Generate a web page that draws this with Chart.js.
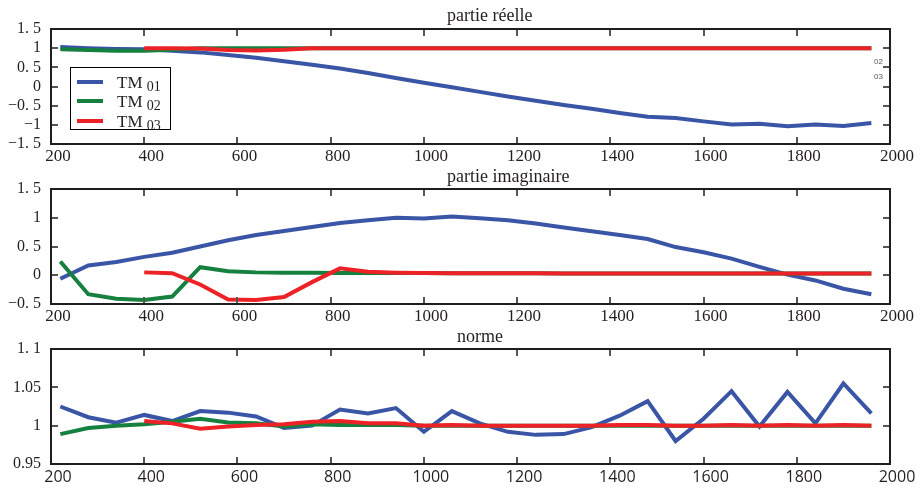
<!DOCTYPE html>
<html>
<head>
<meta charset="utf-8">
<script src="https://cdn.jsdelivr.net/npm/chart.js@4.4.1/dist/chart.umd.min.js"></script>
<style>
  body { margin: 0; background: #fff; }
  #wrap { position: relative; width: 920px; height: 494px; }
  canvas { position: absolute; left: 0; }
  #legend { position: absolute; left: 70px; top: 67px; width: 101px; height: 63px; border: 1px solid #000;
            box-sizing: border-box; background: #fff; font-family: 'Liberation Serif', 'DejaVu Serif', serif; color: #231f20; }
  #legend .ln { position: absolute; left: 6px; width: 26px; height: 4px; }
  #legend .tx { position: absolute; left: 46px; font-size: 17px; line-height: 17px; white-space: nowrap; }
  #legend .tx span { font-size: 14px; position: relative; top: 3px; }
</style>
</head>
<body>
<div id="wrap">
  <canvas id="c1" width="920" height="166" style="top:0px"></canvas>
  <canvas id="c2" width="920" height="160" style="top:166px"></canvas>
  <canvas id="c3" width="920" height="168" style="top:326px"></canvas>
  <div id="legend"></div>
</div>
<script>
// wavelengths (x) shared by every curve
const xs = [220, 280, 340, 400, 460, 520, 580, 640, 700, 760, 820, 880, 940, 1000, 1060,
            1120, 1180, 1240, 1300, 1360, 1420, 1480, 1540, 1600, 1660, 1720, 1780, 1840, 1900, 1960];

const seriesNames = ['TM 01', 'TM 02', 'TM 03'];
const colors = ['#3a55a6', '#16803f', '#ec2227'];

// partie réelle
const re01 = [1.03, 1.00, 0.98, 0.97, 0.93, 0.89, 0.82, 0.75, 0.66, 0.57, 0.47, 0.35, 0.22, 0.10, -0.02,
              -0.14, -0.26, -0.37, -0.48, -0.58, -0.69, -0.79, -0.82, -0.91, -0.99, -0.975, -1.04, -0.99, -1.03, -0.955];
const re02 = [0.97, 0.95, 0.93, 0.93, 0.96, 1.00, 1.00, 1.00, 1.00, 1.00, 1.00, 1.00, 1.00, 1.00, 1.00,
              1.00, 1.00, 1.00, 1.00, 1.00, 1.00, 1.00, 1.00, 1.00, 1.00, 1.00, 1.00, 1.00, 1.00, 1.00];
const re03 = [null, null, null, 1.00, 1.00, 0.99, 0.95, 0.94, 0.96, 1.00, 1.00, 1.00, 1.00, 1.00, 1.00,
              1.00, 1.00, 1.00, 1.00, 1.00, 1.00, 1.00, 1.00, 1.00, 1.00, 1.00, 1.00, 1.00, 1.00, 1.00];

// partie imaginaire
const im01 = [-0.06, 0.17, 0.23, 0.32, 0.39, 0.50, 0.61, 0.70, 0.77, 0.84, 0.91, 0.957, 1.00, 0.986, 1.02,
              0.99, 0.955, 0.90, 0.83, 0.766, 0.70, 0.63, 0.49, 0.40, 0.29, 0.145, 0.01, -0.09, -0.235, -0.33];
const im02 = [0.24, -0.33, -0.41, -0.43, -0.37, 0.14, 0.07, 0.05, 0.045, 0.045, 0.04, 0.04, 0.04, 0.04, 0.035,
              0.035, 0.035, 0.035, 0.03, 0.03, 0.03, 0.03, 0.03, 0.03, 0.03, 0.03, 0.03, 0.03, 0.03, 0.03];
const im03 = [null, null, null, 0.05, 0.035, -0.16, -0.42, -0.43, -0.38, -0.12, 0.12, 0.06, 0.045, 0.04, 0.035,
              0.035, 0.035, 0.035, 0.03, 0.03, 0.03, 0.03, 0.03, 0.03, 0.03, 0.03, 0.03, 0.03, 0.03, 0.03];

// norme
const no01 = [1.025, 1.011, 1.004, 1.014, 1.006, 1.019, 1.017, 1.012, 0.997, 1.000, 1.021, 1.016, 1.023, 0.992, 1.019,
              1.003, 0.992, 0.988, 0.989, 0.998, 1.013, 1.032, 0.980, 1.009, 1.045, 0.999, 1.044, 1.003, 1.055, 1.016];
const no02 = [0.989, 0.997, 1.000, 1.002, 1.005, 1.009, 1.004, 1.003, 0.999, 1.002, 1.001, 1.001, 1.001, 1.000, 1.000,
              1.000, 1.000, 1.000, 1.000, 1.000, 1.000, 1.000, 1.000, 1.000, 1.000, 1.000, 1.000, 1.000, 1.000, 1.000];
const no03 = [null, null, null, 1.006, 1.003, 0.996, 0.999, 1.001, 1.002, 1.005, 1.006, 1.003, 1.003, 1.000, 1.001,
              1.000, 1.000, 1.000, 1.000, 1.000, 1.001, 1.001, 1.000, 1.000, 1.001, 1.000, 1.001, 1.000, 1.001, 1.000];

const xTickLabels = ['200', '400', '600', '800', '1000', '1200', '1400', '1600', '1800', '2000'];
const yLabelsRe = ['\u22121. 5', '\u22121', '\u22120. 5', '0', '0. 5', '1', '1. 5'];
const yLabelsIm = ['\u22120. 5', '0', '0. 5', '1', '1. 5'];
const yLabelsNo = ['0.95', '1', '1.05', '1. 1'];

const serif = "'Liberation Serif', 'DejaVu Serif', serif";
const textColor = '#231f20';

// frame, inward ticks and panel title (drawn with filled rects so they stay crisp)
const framePlugin = {
  id: 'frame',
  afterDraw(chart, args, opts) {
    const ctx = chart.ctx;
    const a = chart.chartArea;
    const sx = chart.scales.x, sy = chart.scales.y;
    const L = Math.round(a.left), R = Math.round(a.right), T = Math.round(a.top), B = Math.round(a.bottom);
    ctx.save();
    ctx.fillStyle = '#555';
    sx.ticks.forEach(t => {
      const p = Math.round(sx.getPixelForValue(t.value));
      ctx.fillRect(p - 1, B - 7, 2, 7);
      ctx.fillRect(p - 1, T, 2, 7);
    });
    sy.ticks.forEach(t => {
      const p = Math.round(sy.getPixelForValue(t.value));
      ctx.fillRect(L, p - 1, 7, 2);
      ctx.fillRect(R - 7, p - 1, 7, 2);
    });
    ctx.fillStyle = '#1e1e1e';
    ctx.fillRect(L - 1, T - 1, R - L + 2, 2);
    ctx.fillRect(L - 1, B - 1, R - L + 2, 2);
    ctx.fillRect(L - 1, T - 1, 2, B - T + 2);
    ctx.fillRect(R - 1, T - 1, 2, B - T + 2);
    ctx.fillStyle = textColor;
    ctx.font = '18px ' + serif;
    ctx.textAlign = 'left';
    ctx.textBaseline = 'alphabetic';
    ctx.fillText(opts.text, opts.x, opts.y);
    (opts.notes || []).forEach(n => {
      ctx.font = '8px "Liberation Sans", sans-serif';
      ctx.fillStyle = '#555';
      ctx.fillText(n[0], n[1], n[2]);
    });
    ctx.restore();
  }
};

function makePanel(id, ys, yMin, yMax, yStep, yLabels, opt) {
  const datasets = ys.map((arr, k) => ({
    label: seriesNames[k],
    data: xs.map((x, i) => ({ x: x, y: arr[i] })),
    borderColor: colors[k],
    backgroundColor: colors[k],
    borderWidth: 4,
    pointRadius: 0,
    tension: 0,
    fill: false,
    order: 2 - k
  }));
  return new Chart(document.getElementById(id), {
    type: 'line',
    data: { datasets: datasets },
    options: {
      responsive: false,
      animation: false,
      layout: { autoPadding: false, padding: { left: 0, right: 30, top: opt.top, bottom: 0 } },
      plugins: {
        legend: { display: false },
        tooltip: { enabled: false },
        frame: { text: opt.title, x: opt.titleX, y: opt.titleY, notes: opt.notes }
      },
      scales: {
        x: {
          type: 'linear', min: 200, max: 2000,
          grid: { display: false, drawTicks: false }, border: { display: false },
          ticks: {
            stepSize: 200, autoSkip: false, maxRotation: 0, padding: opt.xPad, labelOffset: 7,
            color: textColor, font: opt.xFont,
            callback: (v, i) => xTickLabels[i]
          },
          afterFit: s => { s.height = opt.xHeight; }
        },
        y: {
          type: 'linear', min: yMin, max: yMax,
          grid: { display: false, drawTicks: false }, border: { display: false },
          ticks: {
            stepSize: yStep, autoSkip: false, padding: 10,
            color: textColor, font: { family: serif, size: 16 },
            callback: (v, i) => yLabels[i]
          },
          afterFit: s => { s.width = 51; }
        }
      }
    },
    plugins: [framePlugin]
  });
}

makePanel('c1', [re01, re02, re03], -1.5, 1.5, 0.5, yLabelsRe, {
  top: 29, xHeight: 22, xPad: 2, xFont: { family: serif, size: 17 },
  title: 'partie réelle', titleX: 447, titleY: 21,
  notes: [['02', 874, 64], ['03', 874, 79]]
});
makePanel('c2', [im01, im02, im03], -0.5, 1.5, 0.5, yLabelsIm, {
  top: 23, xHeight: 22, xPad: 2, xFont: { family: serif, size: 17 },
  title: 'partie imaginaire', titleX: 447, titleY: 16
});
makePanel('c3', [no01, no02, no03], 0.95, 1.1, 0.05, yLabelsNo, {
  top: 23, xHeight: 30, xPad: 4, xFont: { family: "'Open Sans', 'Liberation Sans', sans-serif", size: 16 },
  title: 'norme', titleX: 457, titleY: 16
});

// legend with subscripts
const legend = document.getElementById('legend');
const rowsY = [14, 33, 53];
seriesNames.forEach((name, k) => {
  const ln = document.createElement('div');
  ln.className = 'ln';
  ln.style.top = (rowsY[k] - 2) + 'px';
  ln.style.background = colors[k];
  legend.appendChild(ln);
  const tx = document.createElement('div');
  tx.className = 'tx';
  tx.style.top = (rowsY[k] - 8) + 'px';
  const parts = name.split(' ');
  tx.innerHTML = parts[0] + ' <span>' + parts[1] + '</span>';
  legend.appendChild(tx);
});
</script>
</body>
</html>
